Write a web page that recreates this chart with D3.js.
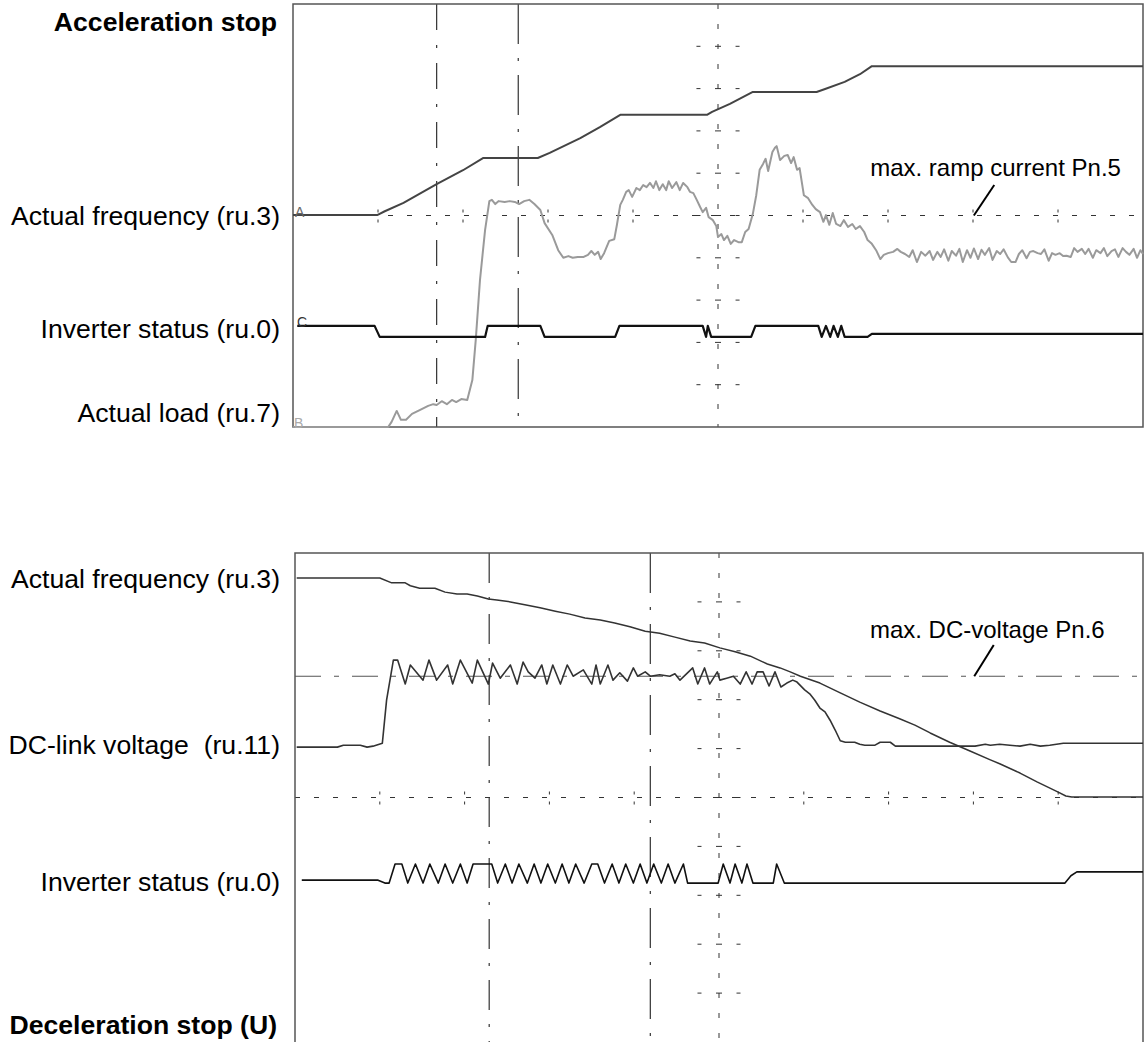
<!DOCTYPE html>
<html>
<head>
<meta charset="utf-8">
<script src="https://cdn.jsdelivr.net/npm/d3@7"></script>
<style>
  html, body { margin: 0; padding: 0; background: #fff; }
  svg { display: block; font-family: "Liberation Sans", Arial, Helvetica, sans-serif; }
  svg text { white-space: pre; }
</style>
</head>
<body>
<svg id="chart" width="1144" height="1042"></svg>
<script>
// ---------- DATA (time and value in screen divisions, 0..10) ----------
const divisions = [0,1,2,3,4,5,6,7,8,9,10];

// Panel 1: Acceleration stop
const accelFrequency = [
  [0,5.01],[0.99,5.01],[1.08,5.1],[1.3,5.3],[1.69,5.74],[2.0,6.07],[2.24,6.36],
  [2.88,6.36],[3.02,6.48],[3.38,6.83],[3.61,7.09],[3.85,7.38],
  [4.87,7.38],[4.93,7.45],[5.14,7.64],[5.41,7.92],
  [6.16,7.92],[6.26,7.99],[6.49,8.16],[6.67,8.34],[6.81,8.53],[10,8.53]
];
const accelLoad = [
  [0,0],[1.12,0],[1.16,0.12],[1.22,0.38],[1.27,0.17],[1.33,0.17],[1.4,0.31],[1.49,0.4],
  [1.59,0.5],[1.65,0.54],[1.69,0.52],[1.75,0.61],[1.81,0.54],[1.87,0.64],[1.92,0.59],
  [1.98,0.66],[2.05,0.64],[2.11,1.11],[2.15,2.06],[2.2,3.48],[2.26,4.66],[2.31,5.34],
  [2.34,5.37],[2.38,5.27],[2.42,5.34],[2.49,5.32],[2.55,5.34],[2.61,5.32],[2.66,5.27],
  [2.72,5.34],[2.78,5.37],[2.84,5.27],[2.91,5.13],[2.96,4.82],[3.05,4.54],[3.12,4.18],
  [3.18,4.0],[3.24,4.04],[3.29,4.0],[3.35,4.02],[3.42,4.02],[3.47,4.07],[3.51,4.16],
  [3.55,4.07],[3.59,4.14],[3.62,3.97],[3.66,4.11],[3.72,4.4],[3.78,4.44],[3.81,4.77],
  [3.85,5.25],[3.88,5.37],[3.92,5.56],[3.95,5.6],[3.99,5.44],[4.04,5.65],[4.08,5.6],
  [4.12,5.72],[4.16,5.67],[4.2,5.77],[4.24,5.65],[4.27,5.81],[4.31,5.6],[4.35,5.74],
  [4.39,5.6],[4.42,5.81],[4.46,5.65],[4.51,5.79],[4.55,5.6],[4.59,5.77],[4.64,5.67],
  [4.67,5.56],[4.71,5.53],[4.75,5.37],[4.79,5.2],[4.82,5.08],[4.86,5.18],[4.89,4.96],
  [4.94,4.89],[4.98,4.75],[5.0,4.49],[5.04,4.56],[5.07,4.42],[5.11,4.52],[5.15,4.33],
  [5.19,4.42],[5.24,4.37],[5.28,4.37],[5.32,4.61],[5.36,4.68],[5.41,5.04],[5.45,5.48],
  [5.49,6.08],[5.53,6.22],[5.56,6.34],[5.59,6.05],[5.64,6.5],[5.67,6.6],[5.69,6.64],
  [5.73,6.31],[5.78,6.41],[5.82,6.43],[5.86,6.24],[5.89,6.38],[5.93,6.08],[5.96,6.12],
  [6.01,5.48],[6.06,5.41],[6.11,5.25],[6.15,5.15],[6.2,5.08],[6.24,4.85],[6.27,5.01],
  [6.31,4.78],[6.35,5.06],[6.39,4.8],[6.44,4.75],[6.48,4.89],[6.53,4.73],[6.58,4.8],
  [6.62,4.68],[6.67,4.75],[6.72,4.61],[6.76,4.42],[6.81,4.33],[6.86,4.18],[6.91,3.97],
  [6.95,4.07],[7.0,4.11],[7.06,4.14],[7.11,4.21],[7.15,4.14],[7.2,4.09],[7.25,4.02],
  [7.29,4.18],[7.34,3.9],[7.39,4.14],[7.44,4.05],[7.49,4.16],[7.53,3.95],[7.58,4.14],
  [7.62,4.02],[7.66,4.2],[7.71,3.93],[7.75,4.16],[7.8,4.05],[7.84,4.21],[7.88,3.9],
  [7.93,4.18],[7.97,4.0],[8.01,4.22],[8.06,3.97],[8.1,4.19],[8.14,4.07],[8.19,4.23],
  [8.23,3.95],[8.28,4.16],[8.32,4.09],[8.36,4.2],[8.41,4.01],[8.45,3.9],[8.5,3.9],
  [8.54,4.09],[8.58,4.18],[8.63,3.99],[8.67,4.14],[8.71,4.16],[8.76,4.11],[8.8,4.09],
  [8.84,4.2],[8.89,3.93],[8.93,4.11],[8.97,4.07],[9.02,4.11],[9.06,4.04],[9.1,4.05],
  [9.15,4.02],[9.19,4.23],[9.23,4.14],[9.28,4.21],[9.32,4.09],[9.36,4.21],[9.41,4.0],
  [9.45,4.18],[9.5,4.11],[9.54,4.23],[9.58,4.04],[9.63,4.16],[9.67,4.2],[9.71,4.02],
  [9.76,4.23],[9.8,4.14],[9.84,4.07],[9.89,4.21],[9.93,4.0],[9.97,4.18],[10,4.09]
];
const accelStatus = [
  [0.05,2.39],[0.96,2.39],[1.02,2.13],[2.26,2.13],[2.29,2.39],[2.91,2.39],[2.96,2.13],
  [3.79,2.13],[3.84,2.39],[4.82,2.39],[4.86,2.13],[4.88,2.39],[4.92,2.13],[5.39,2.13],
  [5.44,2.39],[6.18,2.39],[6.22,2.13],[6.27,2.39],[6.32,2.13],[6.36,2.39],[6.41,2.13],
  [6.45,2.39],[6.49,2.13],[6.76,2.13],[6.81,2.2],[10,2.2]
];
const accelCursors = [1.69, 2.65];

// Panel 2: Deceleration stop (U)
const decelFrequency = [
  [0.02,9.49],[1.0,9.49],[1.14,9.39],[1.3,9.39],[1.36,9.33],[1.47,9.28],[1.65,9.28],
  [1.77,9.2],[1.91,9.16],[2.03,9.16],[2.15,9.12],[2.28,9.06],[2.38,9.04],[2.54,9.0],
  [2.71,8.94],[2.89,8.88],[3.07,8.81],[3.24,8.75],[3.42,8.67],[3.6,8.63],[3.77,8.57],
  [3.95,8.49],[4.13,8.4],[4.3,8.36],[4.48,8.28],[4.66,8.2],[4.83,8.16],[5.01,8.06],
  [5.19,7.98],[5.37,7.89],[5.57,7.73],[5.72,7.65],[5.84,7.57],[5.96,7.48],[6.19,7.34],
  [6.43,7.14],[6.66,6.95],[6.9,6.77],[7.13,6.61],[7.31,6.48],[7.49,6.32],[7.72,6.13],
  [7.96,5.95],[8.2,5.77],[8.31,5.69],[8.55,5.5],[8.75,5.32],[9.0,5.11],[9.09,5.03],
  [9.16,5.01],[10,5.01]
];
const decelDcLink = [
  [0.02,6.03],[0.5,6.03],[0.57,6.07],[0.77,6.07],[0.85,6.03],[0.92,6.05],[1.03,6.11],
  [1.08,6.99],[1.16,7.81],[1.21,7.81],[1.3,7.32],[1.36,7.71],[1.51,7.4],[1.58,7.81],
  [1.67,7.4],[1.8,7.71],[1.86,7.32],[1.95,7.81],[2.09,7.34],[2.15,7.81],[2.28,7.32],
  [2.33,7.75],[2.42,7.44],[2.54,7.71],[2.62,7.32],[2.69,7.77],[2.75,7.57],[2.83,7.44],
  [2.91,7.71],[2.97,7.32],[3.04,7.71],[3.13,7.32],[3.21,7.71],[3.28,7.48],[3.4,7.61],
  [3.5,7.32],[3.55,7.71],[3.6,7.32],[3.69,7.71],[3.75,7.4],[3.83,7.55],[3.92,7.38],
  [3.99,7.65],[4.04,7.48],[4.13,7.57],[4.19,7.48],[4.3,7.51],[4.42,7.48],[4.48,7.53],
  [4.54,7.4],[4.69,7.65],[4.75,7.32],[4.83,7.65],[4.89,7.32],[4.98,7.57],[5.01,7.4],
  [5.09,7.44],[5.17,7.48],[5.25,7.32],[5.32,7.57],[5.39,7.32],[5.45,7.57],[5.52,7.57],
  [5.59,7.28],[5.66,7.57],[5.73,7.26],[5.8,7.34],[5.87,7.4],[5.92,7.36],[6.01,7.2],
  [6.07,7.12],[6.13,6.99],[6.19,6.83],[6.25,6.75],[6.31,6.58],[6.37,6.38],[6.43,6.16],
  [6.49,6.13],[6.6,6.13],[6.66,6.09],[6.72,6.07],[6.84,6.07],[6.9,6.13],[7.02,6.13],
  [7.08,6.05],[7.61,6.05],[8.02,6.05],[8.14,6.09],[8.2,6.07],[8.31,6.09],[8.43,6.07],
  [8.55,6.05],[8.67,6.09],[8.79,6.05],[8.9,6.07],[9.06,6.11],[10,6.11]
];
const decelStatus = [
  [0.08,3.31],[0.98,3.31],[1.06,3.25],[1.11,3.25],[1.18,3.64],[1.26,3.64],
  [1.33,3.25],[1.42,3.64],[1.51,3.25],[1.59,3.64],[1.69,3.25],[1.77,3.64],[1.86,3.25],
  [1.95,3.64],[2.03,3.25],[2.1,3.64],[2.32,3.64],[2.39,3.25],[2.48,3.64],[2.56,3.25],
  [2.64,3.64],[2.74,3.25],[2.82,3.64],[2.9,3.25],[2.98,3.64],[3.07,3.25],[3.15,3.64],
  [3.23,3.25],[3.31,3.64],[3.41,3.25],[3.5,3.64],[3.57,3.64],[3.65,3.25],[3.74,3.64],
  [3.82,3.25],[3.9,3.64],[3.99,3.25],[4.07,3.64],[4.15,3.25],[4.23,3.64],[4.32,3.25],
  [4.4,3.64],[4.48,3.25],[4.58,3.64],[4.63,3.25],[4.99,3.25],[5.05,3.64],[5.13,3.25],
  [5.19,3.64],[5.27,3.25],[5.33,3.64],[5.4,3.25],[5.64,3.25],[5.68,3.64],[5.77,3.25],
  [9.08,3.25],[9.15,3.4],[9.22,3.48],[10,3.48]
];
const decelCursors = [2.29, 4.19];
const decelVoltageLimit = 7.48;

// Labels
const accelTitle = "Acceleration stop";
const decelTitle = "Deceleration stop (U)";
const accelLabels = [
  {text: "Actual frequency (ru.3)", v: 5.0},
  {text: "Inverter status (ru.0)", v: 2.32},
  {text: "Actual load (ru.7)", v: 0.35}
];
const decelLabels = [
  {text: "Actual frequency (ru.3)", v: 9.49},
  {text: "DC-link voltage  (ru.11)", v: 6.08},
  {text: "Inverter status (ru.0)", v: 3.28}
];
const accelNote = {text: "max. ramp current Pn.5", t: 6.79, v: 5.94, from: [8.01, 5.0], to: [8.25, 5.72]};
const decelNote = {text: "max. DC-voltage Pn.6", t: 6.78, v: 8.27, from: [8.01, 7.48], to: [8.24, 8.12]};

// ---------- DRAWING ----------
const svg = d3.select("#chart");
const LABEL_SIZE = 26.6, NOTE_SIZE = 24;

function panel(cfg) {
  const x = d3.scaleLinear().domain([0,10]).range(cfg.xr);
  const y = d3.scaleLinear().domain([0,10]).range(cfg.yr);
  const g = svg.append("g");
  const gridC = "#333";
  const inner = divisions.slice(1, -1);

  g.append("line").attr("x1", x(0)).attr("x2", x(10)).attr("y1", y(5)).attr("y2", y(5))
    .attr("stroke", gridC).attr("stroke-width", 1).attr("stroke-dasharray", "5,14");
  g.selectAll(".xt").data(inner.filter(d => d !== 5)).enter().append("line")
    .attr("x1", d => x(d)).attr("x2", d => x(d))
    .attr("y1", y(5) - 6).attr("y2", y(5) + 7)
    .attr("stroke", gridC).attr("stroke-width", 1).attr("stroke-dasharray", "3,7");
  g.append("line").attr("x1", x(5)).attr("x2", x(5)).attr("y1", y(10)).attr("y2", y(0))
    .attr("stroke", gridC).attr("stroke-width", 1).attr("stroke-dasharray", "5,15");
  const tickOff = (x(10) - x(0)) / 10 * 0.23;
  inner.forEach(v => {
    [-tickOff, tickOff].forEach(o => {
      g.append("line").attr("x1", x(5) + o - 2).attr("x2", x(5) + o + 2)
        .attr("y1", y(v)).attr("y2", y(v)).attr("stroke", gridC).attr("stroke-width", 1);
    });
    g.append("line").attr("x1", x(5) - 3).attr("x2", x(5) + 3)
      .attr("y1", y(v)).attr("y2", y(v)).attr("stroke", gridC).attr("stroke-width", 1);
  });
  cfg.cursors.forEach((c, i) => {
    g.append("line").attr("x1", x(c)).attr("x2", x(c)).attr("y1", y(10)).attr("y2", y(0))
      .attr("stroke", "#333").attr("stroke-width", 1.2)
      .attr("stroke-dasharray", cfg.cursorDash[i]);
  });
  if (cfg.hLimit !== undefined) {
    g.append("line").attr("x1", x(0)).attr("x2", x(10)).attr("y1", y(cfg.hLimit)).attr("y2", y(cfg.hLimit))
      .attr("stroke", "#555").attr("stroke-width", 1.2).attr("stroke-dasharray", "26,13,5,13");
  }
  g.append("path")
    .attr("d", cfg.border(x, y))
    .attr("fill", "none").attr("stroke", "#555").attr("stroke-width", 1.5);

  const line = d3.line().x(d => x(d[0])).y(d => y(d[1]));
  cfg.series.forEach(s => {
    g.append("path").datum(s.data).attr("d", line)
      .attr("fill", "none").attr("stroke", s.color).attr("stroke-width", s.width)
      .attr("stroke-linejoin", "round");
  });

  g.selectAll(".lab").data(cfg.labels).enter().append("text")
    .attr("x", 280).attr("y", d => y(d.v)).attr("dy", "0.36em")
    .attr("text-anchor", "end").attr("font-size", LABEL_SIZE).attr("fill", "#000")
    .text(d => d.text);
  g.append("text").attr("x", 277).attr("y", cfg.titleY).attr("text-anchor", "end")
    .attr("font-size", LABEL_SIZE).attr("font-weight", "bold").attr("fill", "#000").text(cfg.title);
  const n = cfg.note;
  g.append("text").attr("x", x(n.t)).attr("y", y(n.v)).attr("font-size", NOTE_SIZE)
    .attr("fill", "#000").text(n.text);
  g.append("line").attr("x1", x(n.from[0])).attr("y1", y(n.from[1]))
    .attr("x2", x(n.to[0])).attr("y2", y(n.to[1]))
    .attr("stroke", "#000").attr("stroke-width", 2);
  return {x, y, g};
}

const p1 = panel({
  xr: [293, 1143], yr: [427, 4],
  cursors: accelCursors, cursorDash: ["26,15,3,15", "40,14,3,14"],
  border: (x, y) => `M${x(0)},${y(0)}V${y(10)}H${x(10)}V${y(0)}Z`,
  series: [
    {data: accelLoad, color: "#9a9a9a", width: 2},
    {data: accelFrequency, color: "#444", width: 2},
    {data: accelStatus, color: "#111", width: 2.2}
  ],
  labels: accelLabels, title: accelTitle, titleY: 31, note: accelNote
});
p1.g.append("text").attr("x", 295).attr("y", p1.y(5.0) + 1).attr("font-size", 14).attr("fill", "#666").text("A");
p1.g.append("text").attr("x", 297).attr("y", p1.y(2.39) + 1).attr("font-size", 14).attr("fill", "#333").text("C");
p1.g.append("text").attr("x", 294).attr("y", p1.y(0) + 1).attr("font-size", 14).attr("fill", "#aaa").text("B");

panel({
  xr: [295, 1143], yr: [1042, 553],
  cursors: decelCursors, cursorDash: ["30,14,3,14", "40,14,3,14"],
  hLimit: decelVoltageLimit,
  border: (x, y) => `M${x(0)},${y(0) + 5}V${y(10)}H${x(10)}V${y(0) + 5}`,
  series: [
    {data: decelFrequency, color: "#333", width: 1.5},
    {data: decelDcLink, color: "#333", width: 1.6},
    {data: decelStatus, color: "#111", width: 1.6}
  ],
  labels: decelLabels, title: decelTitle, titleY: 1034, note: decelNote
});
</script>
</body>
</html>
